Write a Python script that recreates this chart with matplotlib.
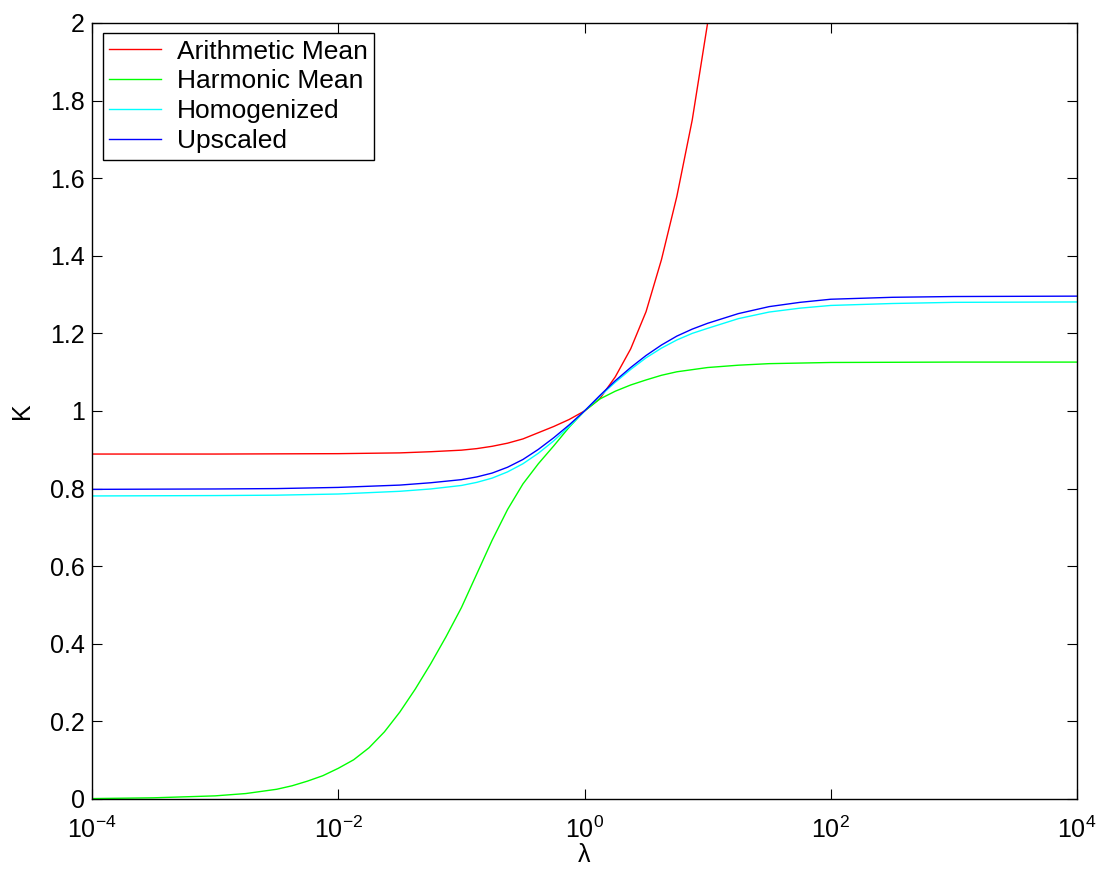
import numpy as np
import matplotlib.pyplot as plt

plt.rcParams['font.family'] = ['Liberation Sans', 'DejaVu Sans']
plt.rcParams['mathtext.fontset'] = 'custom'
plt.rcParams['mathtext.rm'] = 'Liberation Sans'
plt.rcParams['mathtext.it'] = 'Liberation Sans:italic'

# log10(lambda) sample points and effective K for each averaging scheme
log_lam_arith = [-4, -3, -2, -1.5, -1.25, -1, -0.875, -0.75, -0.625, -0.5, -0.375, -0.25,
                 -0.125, 0, 0.125, 0.25, 0.375, 0.5, 0.625, 0.75, 0.875, 1.0]
k_arith = [0.889, 0.889, 0.890, 0.892, 0.895, 0.899, 0.903, 0.909, 0.917, 0.928, 0.944, 0.960,
           0.978, 1.0, 1.032, 1.088, 1.160, 1.256, 1.390, 1.553, 1.750, 2.0]

log_lam_harm = [-4, -3.5, -3, -2.75, -2.5, -2.375, -2.25, -2.125, -2, -1.875, -1.75, -1.625,
                -1.5, -1.375, -1.25, -1.125, -1, -0.875, -0.75, -0.625, -0.5, -0.375, -0.25,
                -0.125, 0, 0.125, 0.25, 0.375, 0.5, 0.625, 0.75, 1, 1.25, 1.5, 2, 3, 4]
k_harm = [0.001, 0.003, 0.008, 0.014, 0.025, 0.034, 0.046, 0.060, 0.079, 0.101, 0.132, 0.173,
          0.224, 0.283, 0.348, 0.418, 0.493, 0.580, 0.667, 0.746, 0.812, 0.864, 0.910,
          0.958, 1.0, 1.031, 1.051, 1.067, 1.080, 1.092, 1.101, 1.112, 1.118, 1.122, 1.125, 1.126, 1.126]

log_lam_hom = [-4, -3, -2.5, -2, -1.5, -1.25, -1, -0.875, -0.75, -0.625, -0.5, -0.375, -0.25,
               -0.125, 0, 0.125, 0.25, 0.375, 0.5, 0.625, 0.75, 0.875, 1, 1.25, 1.5, 1.75,
               2, 2.5, 3, 4]
k_hom = [0.781, 0.782, 0.783, 0.786, 0.793, 0.799, 0.808, 0.816, 0.827, 0.843, 0.864, 0.891, 0.923,
         0.960, 1.0, 1.038, 1.074, 1.107, 1.137, 1.162, 1.183, 1.200, 1.213, 1.238, 1.255, 1.265,
         1.272, 1.277, 1.280, 1.281]

log_lam_up = [-4, -3, -2.5, -2, -1.5, -1.25, -1, -0.875, -0.75, -0.625, -0.5, -0.375, -0.25,
              -0.125, 0, 0.125, 0.25, 0.375, 0.5, 0.625, 0.75, 0.875, 1, 1.25, 1.5, 1.75,
              2, 2.5, 3, 4]
k_up = [0.798, 0.799, 0.800, 0.803, 0.809, 0.815, 0.823, 0.830, 0.840, 0.855, 0.875, 0.901, 0.931,
        0.964, 1.0, 1.040, 1.078, 1.112, 1.143, 1.170, 1.193, 1.211, 1.226, 1.251, 1.269, 1.280,
        1.288, 1.293, 1.295, 1.296]

fig = plt.figure(figsize=(11.02, 8.71), dpi=100)
ax = fig.add_axes([0.0835, 0.0827, 0.8938, 0.8909])

ax.plot(10.0 ** np.array(log_lam_arith), k_arith, color=(1, 0, 0), lw=1.0, label='Arithmetic Mean')
ax.plot(10.0 ** np.array(log_lam_harm), k_harm, color=(0, 1, 0), lw=1.0, label='Harmonic Mean')
ax.plot(10.0 ** np.array(log_lam_hom), k_hom, color=(0, 1, 1), lw=1.0, label='Homogenized')
ax.plot(10.0 ** np.array(log_lam_up), k_up, color=(0, 0, 1), lw=1.0, label='Upscaled')

ax.set_xscale('log')
ax.set_xlim(1e-4, 1e4)
ax.set_ylim(0, 2)
ax.set_xticks([1e-4, 1e-2, 1e0, 1e2, 1e4])
ax.set_xticklabels([r'$10^{-4}$', r'$10^{-2}$', r'$10^{0}$', r'$10^{2}$', r'$10^{4}$'])
ax.minorticks_off()
yt = [0, 0.2, 0.4, 0.6, 0.8, 1, 1.2, 1.4, 1.6, 1.8, 2]
ax.set_yticks(yt)
ax.set_yticklabels(['0', '0.2', '0.4', '0.6', '0.8', '1', '1.2', '1.4', '1.6', '1.8', '2'])
ax.tick_params(direction='in', top=True, right=True, length=7, width=0.8, labelsize=18)
ax.tick_params(axis='x', pad=13)
ax.tick_params(axis='y', pad=5)
for s in ax.spines.values():
    s.set_linewidth(1.0)

ax.set_xlabel('λ', fontsize=18, labelpad=0)
ax.set_ylabel('K', fontsize=18, labelpad=12)

leg = ax.legend(loc='upper left', bbox_to_anchor=(0.011, 0.987), fontsize=19,
                fancybox=False, edgecolor='black', framealpha=1, handlelength=1.95,
                handletextpad=0.6, borderpad=0.25, labelspacing=0.22, borderaxespad=0)
leg.get_frame().set_linewidth(1.0)

fig.savefig('out.png', dpi=100)
